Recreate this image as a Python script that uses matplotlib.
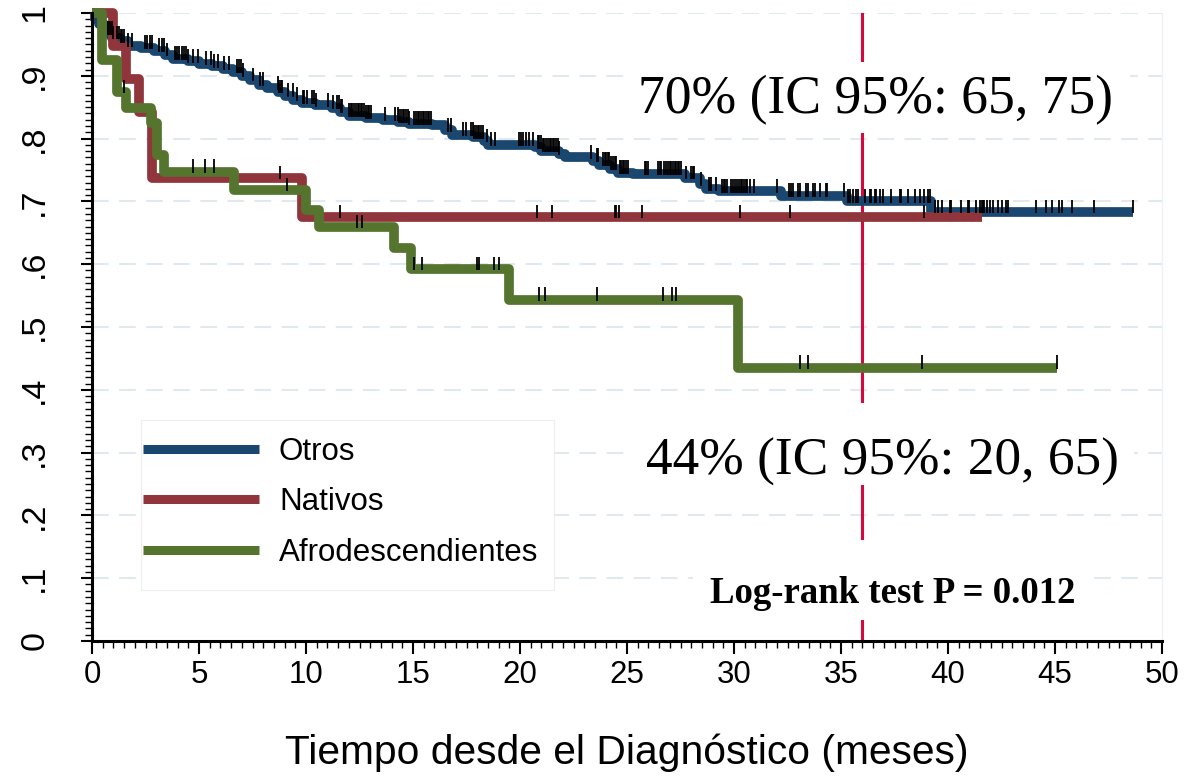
import matplotlib
matplotlib.use("Agg")
import numpy as np
import matplotlib.pyplot as plt
from matplotlib.ticker import MultipleLocator
from matplotlib.patches import Rectangle

plt.rcParams["font.family"] = ["Liberation Sans", "DejaVu Sans"]

# ---- Kaplan-Meier: tiempos de caída y supervivencia tras cada caída ----
OTROS_T = [0, 0.15, 0.35, 0.55, 0.75, 0.95, 1.3, 1.7, 2.3, 2.9, 3.4, 3.8, 4.5, 5.0, 5.6,
           6.1, 6.6, 7.0, 7.4, 7.8, 8.2, 8.7, 9.0, 9.4, 9.8, 10.4, 11.2, 11.6, 12.0, 12.8,
           13.6, 14.3, 14.8, 15.9, 16.5, 16.8, 17.8, 18.3, 18.5, 20.7, 21.0, 21.8, 22.1,
           23.4, 23.7, 24.2, 24.6, 25.3, 27.7, 28.4, 28.7, 29.3, 32.2, 35.3, 39.2]
OTROS_S = [1.0, 0.990, 0.982, 0.975, 0.967, 0.960, 0.955, 0.948, 0.945, 0.940, 0.933, 0.927,
           0.923, 0.919, 0.915, 0.911, 0.906, 0.900, 0.893, 0.886, 0.880, 0.874, 0.868, 0.862,
           0.857, 0.853, 0.849, 0.843, 0.836, 0.833, 0.830, 0.827, 0.824, 0.821, 0.813, 0.806,
           0.802, 0.796, 0.790, 0.786, 0.781, 0.776, 0.770, 0.765, 0.758, 0.752, 0.746, 0.744,
           0.737, 0.727, 0.719, 0.716, 0.709, 0.700, 0.683]
OTROS_END = 48.65
OTROS_CENS = [0.76, 0.83, 0.92, 0.98, 1.18, 1.26, 1.34, 1.42, 1.5, 1.7, 1.89, 2.48, 2.59, 2.7,
              2.79, 3.13, 3.26, 3.37, 3.52, 3.88, 3.99, 4.07, 4.22, 4.3, 4.38, 4.5, 4.72, 4.93,
              5.35, 5.55, 5.71, 5.91, 6.17, 6.41, 6.77, 6.85, 6.96, 7.06, 7.5, 7.84, 7.97, 8.67,
              8.75, 8.83, 8.9, 9.18, 9.37, 9.6, 9.84, 9.92, 10.07, 10.3, 10.38, 10.49, 11.05,
              11.24, 11.43, 11.55, 11.63, 11.7, 12.02, 12.1, 12.17, 12.25, 12.33, 12.41, 12.49,
              12.57, 12.64, 12.72, 12.8, 12.88, 12.96, 13.03, 13.7, 14.17, 14.28, 14.36, 14.44,
              14.52, 14.6, 14.67, 14.75, 14.83, 15.06, 15.14, 15.22, 15.3, 15.38, 15.45, 15.53,
              15.61, 15.69, 15.77, 15.84, 16.62, 16.77, 17.32, 17.48, 17.71, 17.79, 17.87,
              17.95, 18.02, 18.1, 18.18, 18.26, 18.46, 18.64, 18.85, 19.94, 20.05, 20.16, 20.28,
              20.44, 20.6, 20.83, 20.91, 20.99, 21.07, 21.14, 21.22, 21.3, 21.38, 21.46, 21.53,
              21.61, 21.69, 21.77, 21.84, 23.33, 23.59, 23.64, 23.87, 23.95, 24.03, 24.1, 24.18,
              24.26, 24.34, 24.42, 24.5, 24.65, 24.73, 24.8, 24.88, 24.96, 25.04, 25.82, 25.9,
              25.97, 26.44, 26.52, 26.6, 26.75, 26.83, 26.91, 26.99, 27.06, 27.14, 27.22, 27.3,
              27.38, 27.45, 27.53, 27.77, 28.0, 28.08, 28.15, 28.44, 28.83, 28.94, 29.14, 29.45,
              29.53, 29.6, 29.68, 29.88, 29.96, 30.04, 30.15, 30.23, 30.31, 30.38, 30.46, 30.54,
              30.62, 30.73, 30.93, 32.02, 32.57, 32.68, 32.76, 32.99, 33.07, 33.38, 33.46, 33.69,
              33.77, 34.0, 34.28, 34.35, 35.13, 35.33, 35.41, 35.56, 35.72, 35.8, 36.1, 36.34,
              36.42, 36.58, 36.65, 36.81, 36.94, 37.35, 37.74, 37.82, 38.13, 38.45, 38.7, 38.9,
              39.05, 39.15, 39.4, 39.55, 39.7, 40.1, 40.15, 40.6, 40.95, 41.0, 41.3, 41.5, 41.6,
              41.65, 41.7, 41.8, 41.95, 42.1, 42.35, 42.5, 42.7, 42.8, 44.1, 44.6, 44.85, 45.2,
              45.35, 45.8, 46.8, 48.65]

NATIVOS_T = [0, 1.0, 1.6, 2.2, 2.8, 9.8]
NATIVOS_S = [1.0, 0.947, 0.895, 0.842, 0.737, 0.675]
NATIVOS_END = 41.6
NATIVOS_CENS = [8.8, 11.6, 20.8, 21.5, 24.42, 24.5, 24.62, 25.7, 30.3, 32.6, 38.9]

AFRO_T = [0, 0.45, 1.18, 1.58, 2.75, 3.04, 3.37, 6.64, 10.0, 10.6, 14.1, 14.9, 19.5, 30.2]
AFRO_S = [1.0, 0.925, 0.874, 0.849, 0.825, 0.774, 0.747, 0.718, 0.686, 0.659, 0.626,
          0.592, 0.543, 0.435]
AFRO_END = 45.1
AFRO_CENS = [1.5, 4.7, 5.3, 5.7, 9.1, 12.4, 12.6, 15.05, 15.4, 18.0, 18.1, 18.8, 19.0, 20.9,
             21.15, 23.6, 26.7, 27.1, 27.3, 33.1, 33.45, 38.8, 45.1]

GROUPS = ["Otros", "Nativos", "Afrodescendientes"]
COLORS = ["#1a476f", "#90353b", "#55752f"]

YTICKS = [0, 0.1, 0.2, 0.3, 0.4, 0.5, 0.6, 0.7, 0.8, 0.9, 1.0]
YTICK_LABELS = ["0", ".1", ".2", ".3", ".4", ".5", ".6", ".7", ".8", ".9", "1"]
XTICKS = [0, 5, 10, 15, 20, 25, 30, 35, 40, 45, 50]

REF_T = 36
TXT_70 = "70% (IC 95%: 65, 75)"
TXT_44 = "44% (IC 95%: 20, 65)"
TXT_LR = "Log-rank test P = 0.012"

fig = plt.figure(figsize=(11.85, 7.79), dpi=100)
ax = fig.add_axes([92 / 1185, 138 / 779, 1070 / 1185, 628 / 779])

# rejilla horizontal
for y in YTICKS[1:]:
    ax.axhline(y, color="#e1e9ee", lw=1.5, ls=(0, (8, 5)), zorder=0)

series = [
    (OTROS_T, OTROS_S, OTROS_END, OTROS_CENS),
    (NATIVOS_T, NATIVOS_S, NATIVOS_END, NATIVOS_CENS),
    (AFRO_T, AFRO_S, AFRO_END, AFRO_CENS),
]

handles = []
for (t, s, end, cens), name, col in zip(series, GROUPS, COLORS):
    tt = np.append(t, end)
    ss = np.append(s, s[-1])
    ln, = ax.step(tt, ss, where="post", color=col, lw=7, label=name,
                  solid_joinstyle="round", solid_capstyle="butt", clip_on=False, zorder=2)
    handles.append(ln)

# marcas de censura
for (t, s, end, cens) in series:
    idx = np.searchsorted(t, cens, side="right") - 1
    lvl = np.array(s)[idx]
    ax.vlines(cens, lvl - 0.002, lvl + 0.02, colors="black", lw=1.3, zorder=3)

ax.axvline(REF_T, color="#d6083e", lw=2.2, zorder=1)

# cajas blancas detrás de los textos (tapan rejilla y línea de referencia)
for x0, y0, w, h in [(24.9, 0.809, 23.6, 0.113), (25.3, 0.248, 23.4, 0.131),
                     (28.1, 0.033, 18.7, 0.128)]:
    ax.add_patch(Rectangle((x0, y0), w, h, facecolor="white", edgecolor="none", zorder=4))

ax.text(36.6, 0.861, TXT_70, family="Liberation Serif", fontsize=38.6, ha="center",
        va="center", zorder=5)
ax.text(36.95, 0.285, TXT_44, family="Liberation Serif", fontsize=38.4, ha="center",
        va="center", zorder=5)
ax.text(37.4, 0.076, TXT_LR, family="Liberation Serif", fontsize=26.5, fontweight="bold",
        ha="center", va="center", zorder=5)

# marco de la leyenda
ax.add_patch(Rectangle((0.0458, 0.0812), 0.386, 0.2707, transform=ax.transAxes,
                       facecolor="white", edgecolor="#eeeeee", lw=0.8, zorder=4))
leg = ax.legend(handles=handles, loc="lower left", bbox_to_anchor=(0.0477, 0.1162),
                borderaxespad=0, borderpad=0, fontsize=22.5, frameon=False,
                handlelength=3.7, handletextpad=0.65, labelspacing=0.66)
leg.set_zorder(5)
for lh in leg.get_lines():
    lh.set_linewidth(6.5)

ax.set_xlim(0, 50)
ax.set_ylim(0, 1)
ax.set_xticks(XTICKS)
ax.set_xticklabels([str(x) for x in XTICKS])
ax.set_yticks(YTICKS)
ax.set_yticklabels(YTICK_LABELS, rotation=90, va="center")
ax.xaxis.set_minor_locator(MultipleLocator(0.5))
ax.yaxis.set_minor_locator(MultipleLocator(0.01))
ax.tick_params(axis="x", which="major", length=9, width=1.5, labelsize=22.5, pad=5)
ax.tick_params(axis="x", which="minor", length=5, width=1)
ax.tick_params(axis="y", which="major", length=8, width=1.5, labelsize=24.5, pad=22)
ax.tick_params(axis="y", which="minor", length=5, width=1)

ax.spines["top"].set_visible(False)
ax.spines["right"].set_color("#eef2f5")
ax.spines["right"].set_linewidth(1)
ax.spines["left"].set_linewidth(2.2)
ax.spines["bottom"].set_linewidth(2.2)

ax.set_xlabel("Tiempo desde el Diagnóstico (meses)", fontsize=29.3, labelpad=31)

fig.savefig("out.png", dpi=100, facecolor="white")
